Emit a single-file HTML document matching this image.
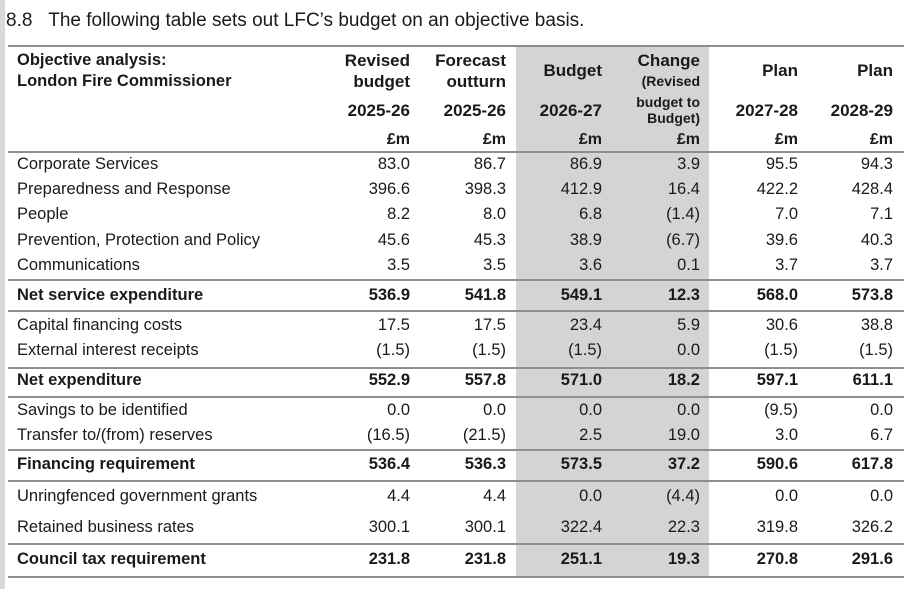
<!DOCTYPE html>
<html><head><meta charset="utf-8"><style>
body{margin:0;width:907px;height:589px;background:#fff;position:relative;overflow:hidden;font-family:"Liberation Sans",sans-serif;color:#1a1a1a}
.a{position:absolute;white-space:nowrap;line-height:1}
.r{text-align:right}
.b{font-weight:bold}
.ln{position:absolute;left:8px;width:896px;height:2px;background:#8e8e8e}
</style></head><body>
<div class="a" style="left:0;top:0;width:5px;height:589px;background:#d9d9d9"></div>
<div class="a" style="left:6px;top:11px;font-size:19px">8.8&nbsp;&nbsp;&nbsp;The following table sets out LFC’s budget on an objective basis.</div>
<div class="a" style="left:516px;top:46px;width:193px;height:531px;background:#d4d4d4"></div>
<div id="t"></div>
<script>
const labels=["Corporate Services","Preparedness and Response","People","Prevention, Protection and Policy","Communications","Net service expenditure","Capital financing costs","External interest receipts","Net expenditure","Savings to be identified","Transfer to/(from) reserves","Financing requirement","Unringfenced government grants","Retained business rates","Council tax requirement"];
const revised=["83.0","396.6","8.2","45.6","3.5","536.9","17.5","(1.5)","552.9","0.0","(16.5)","536.4","4.4","300.1","231.8"];
const forecast=["86.7","398.3","8.0","45.3","3.5","541.8","17.5","(1.5)","557.8","0.0","(21.5)","536.3","4.4","300.1","231.8"];
const budget=["86.9","412.9","6.8","38.9","3.6","549.1","23.4","(1.5)","571.0","0.0","2.5","573.5","0.0","322.4","251.1"];
const change=["3.9","16.4","(1.4)","(6.7)","0.1","12.3","5.9","0.0","18.2","0.0","19.0","37.2","(4.4)","22.3","19.3"];
const plan1=["95.5","422.2","7.0","39.6","3.7","568.0","30.6","(1.5)","597.1","(9.5)","3.0","590.6","0.0","319.8","270.8"];
const plan2=["94.3","428.4","7.1","40.3","3.7","573.8","38.8","(1.5)","611.1","0.0","6.7","617.8","0.0","326.2","291.6"];
const boldRows=[5,8,11,14];
const rowY=[164,189,214,240,265,295,325,350,380,410,435,464,496,527,559];
const lineY=[45,151,279,310,367,396,449,480,543,576];
const colR=[410,506,602,700,798,893];
const t=document.getElementById('t');
function add(txt,cls,style,name){const d=document.createElement('div');d.className='a '+cls;d.style.cssText=style;d.textContent=txt;


t.appendChild(d);return d;}
lineY.forEach((y,i)=>{const d=document.createElement('div');d.className='ln';d.style.top=y+'px';


t.appendChild(d);});
add("Objective analysis:","b","left:17px;top:52px;font-size:16.5px","header-title");
add("London Fire Commissioner","b","left:17px;top:73px;font-size:16.5px","header-subtitle");
const hdr=[["Revised","budget","2025-26"],["Forecast","outturn","2025-26"],["Budget","","2026-27"],["Change","","2026-27"],["Plan","","2027-28"],["Plan","","2028-29"]];
hdr.forEach((h,i)=>{const r=907-colR[i];
 if(i<2){add(h[0],"b r","right:"+r+"px;top:52px;font-size:17px","col-header");add(h[1],"b r","right:"+r+"px;top:73px;font-size:17px","col-header");}
 else if(i==3){add("Change","b r","right:"+r+"px;top:52px;font-size:17px","col-header");add("(Revised","b r","right:"+r+"px;top:74px;font-size:14px","col-header");add("budget to","b r","right:"+r+"px;top:95px;font-size:14px","col-header");add("Budget)","b r","right:"+r+"px;top:111px;font-size:14px","col-header");}
 else add(h[0],"b r","right:"+r+"px;top:62px;font-size:17px","col-header");
 if(i!=3)add(h[2],"b r","right:"+r+"px;top:102px;font-size:17px","col-year");
 add("£m","b r","right:"+r+"px;top:132px;font-size:16px","col-unit");
});
const cols=[revised,forecast,budget,change,plan1,plan2];
labels.forEach((l,i)=>{const b=boldRows.includes(i)?"b":"";const top=rowY[i]-8;
 add(l,b,"left:17px;top:"+top+"px;font-size:16.5px","row-label");
 cols.forEach((c,j)=>add(c[i],b+" r","right:"+(907-colR[j])+"px;top:"+top+"px;font-size:16.5px","cell-value"));
});
</script>
</body></html>
